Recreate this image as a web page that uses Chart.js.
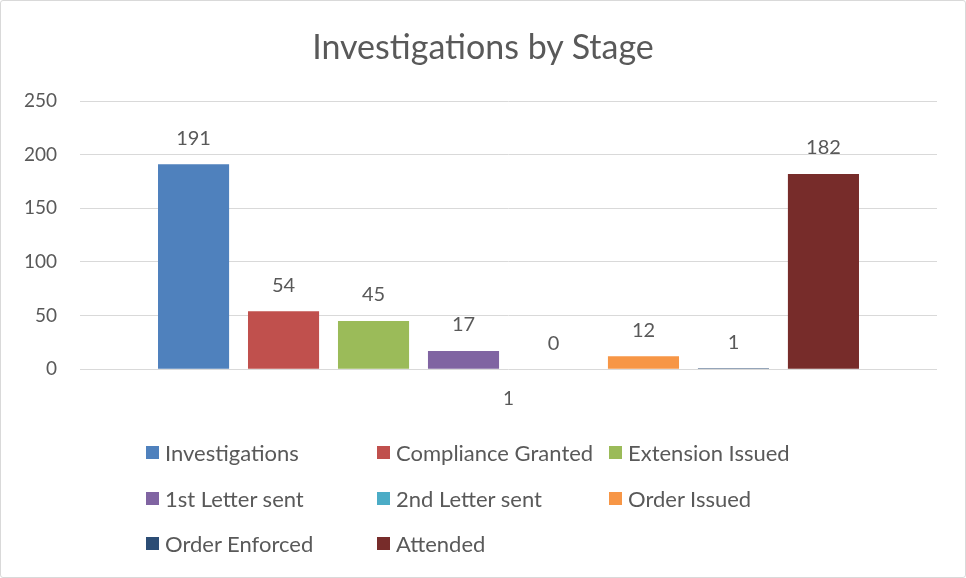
<!DOCTYPE html>
<html>
<head>
<meta charset="utf-8">
<script src="https://cdn.jsdelivr.net/npm/chart.js@4/dist/chart.umd.min.js"></script>
<style>
  html, body { margin: 0; padding: 0; background: #fff; }
  .wrap { position: relative; width: 964px; height: 576px; border: 1px solid #d9d9d9; border-radius: 3px; font-family: Lato, sans-serif; }
  canvas { position: absolute; left: -1px; top: -1px; }
  .title { position: absolute; left: -1px; top: 25px; width: 966px; text-align: center; font-size: 34px; line-height: 40px; color: #595959; }
  .legend { position: absolute; left: 145px; top: 429px; display: grid; grid-template-columns: 231px 232px 240px; grid-auto-rows: 45.5px; align-items: center; }
  .legend span.item { display: flex; align-items: center; font-size: 22px; color: #595959; white-space: nowrap; }
  .legend i { display: inline-block; width: 13px; height: 13px; margin-right: 6px; }
</style>
</head>
<body>
<div class="wrap">
  <canvas id="chart" width="966" height="578"></canvas>
  <div class="title">Investigations by Stage</div>
  <div class="legend" id="legend"></div>
</div>
<script>
const categories = ['1'];
const stages = ['Investigations', 'Compliance Granted', 'Extension Issued', '1st Letter sent', '2nd Letter sent', 'Order Issued', 'Order Enforced', 'Attended'];
const counts = [191, 54, 45, 17, 0, 12, 1, 182];
const colors = ['#4F81BD', '#C0504D', '#9BBB59', '#8064A2', '#4BACC6', '#F79646', '#2C4D75', '#772C2A'];
const yTicks = [0, 50, 100, 150, 200, 250];

const txt = '#595959';

// value labels above each bar
const valueLabels = {
  id: 'valueLabels',
  afterDatasetsDraw(chart) {
    const ctx = chart.ctx;
    ctx.save();
    ctx.fillStyle = txt;
    ctx.font = '20px Lato, sans-serif';
    ctx.textAlign = 'center';
    ctx.textBaseline = 'middle';
    chart.data.datasets.forEach((ds, i) => {
      chart.getDatasetMeta(i).data.forEach((el, j) => {
        ctx.fillText(String(ds.data[j]), el.x, el.y - 26);
      });
    });
    ctx.restore();
  }
};

const chart = new Chart(document.getElementById('chart'), {
  type: 'bar',
  data: {
    labels: categories,
    datasets: stages.map((s, i) => ({ label: s, data: [counts[i]], backgroundColor: colors[i], borderWidth: 0 }))
  },
  options: {
    responsive: false,
    animation: false,
    barPercentage: 0.79,
    categoryPercentage: 0.84,
    layout: { padding: { left: 0, right: 29, top: 101, bottom: 158 } },
    plugins: {
      legend: { display: false },
      tooltip: { enabled: false },
      title: { display: false }
    },
    scales: {
      x: {
        grid: { display: false },
        border: { display: false },
        ticks: { color: txt, font: { family: 'Lato, sans-serif', size: 19 }, padding: 10 }
      },
      y: {
        min: 0,
        max: 250,
        afterBuildTicks(axis) { axis.ticks = yTicks.map(v => ({ value: v })); },
        afterFit(axis) { axis.width = 80; },
        grid: { color: '#d9d9d9', drawTicks: false },
        border: { display: false },
        ticks: { color: txt, font: { family: 'Lato, sans-serif', size: 19 }, padding: 23 }
      }
    }
  },
  plugins: [valueLabels]
});

// legend in three columns, built from the chart's datasets
document.getElementById('legend').innerHTML = chart.data.datasets
  .map(ds => `<span class="item"><i style="background:${ds.backgroundColor}"></i>${ds.label}</span>`)
  .join('');
</script>
</body>
</html>
